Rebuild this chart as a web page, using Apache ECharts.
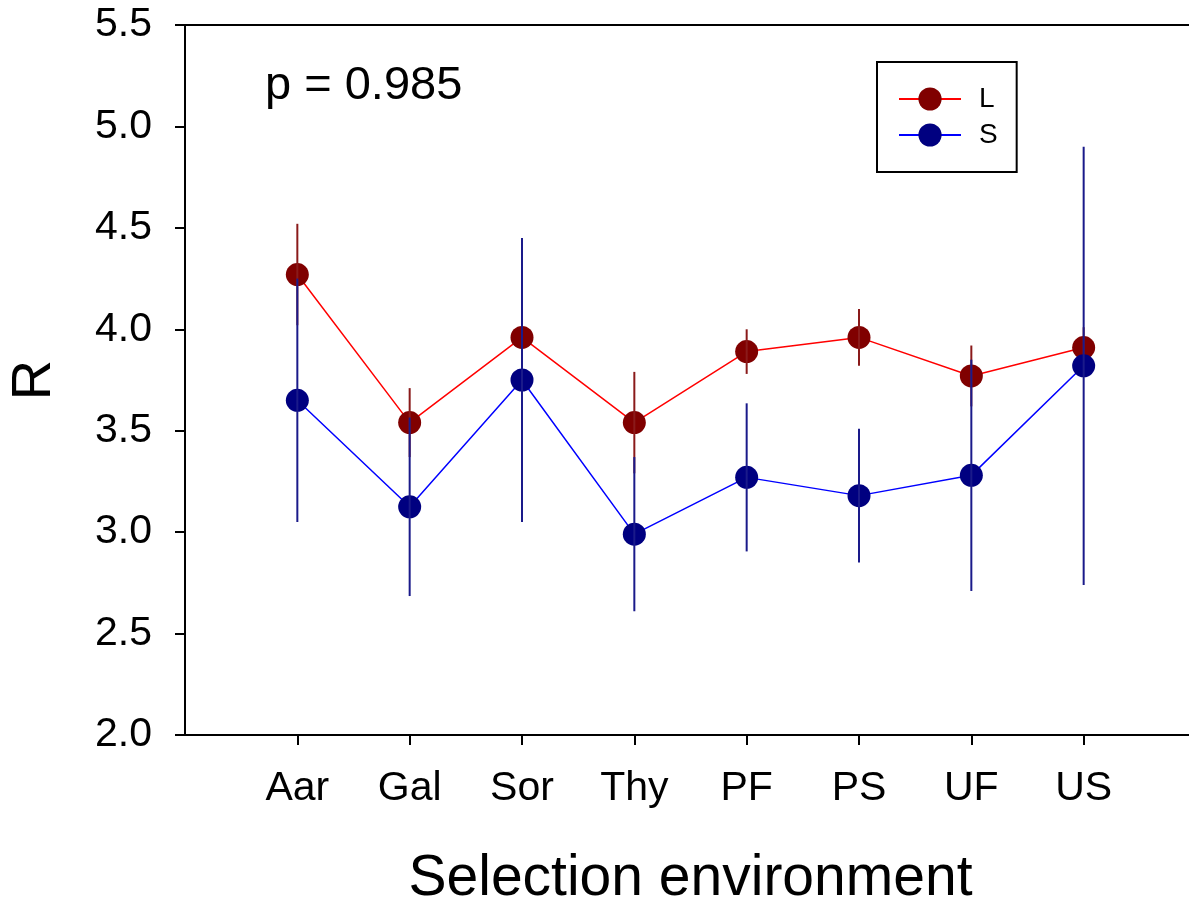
<!DOCTYPE html>
<html>
<head>
<meta charset="utf-8">
<script src="https://cdn.jsdelivr.net/npm/echarts@6/dist/echarts.min.js"></script>
<style>
html,body{margin:0;padding:0;background:#fff;}
#chart{width:1189px;height:901px;}
</style>
</head>
<body>
<div id="chart"></div>
<script>
// ---- data ----
const categories = ['Aar', 'Gal', 'Sor', 'Thy', 'PF', 'PS', 'UF', 'US'];
const meanL = [4.27, 3.54, 3.96, 3.54, 3.89, 3.96, 3.77, 3.91];
const errL  = [0.25, 0.17, 0.10, 0.25, 0.11, 0.14, 0.15, 0.10];
const meanS = [3.65, 3.125, 3.75, 2.99, 3.27, 3.18, 3.28, 3.82];
const errS  = [0.60, 0.44, 0.70, 0.38, 0.365, 0.33, 0.57, 1.08];
const yTicks = [2.0, 2.5, 3.0, 3.5, 4.0, 4.5, 5.0, 5.5];
const annotation = 'p = 0.985';

// padded category list so the points sit one step in from each edge
const axisCats = [''].concat(categories, ['']);

const FONT = '"Liberation Sans", Arial, sans-serif';

function lineData(means) {
  return categories.map((c, i) => [c, means[i]]);
}
function errData(means, errs) {
  return categories.map((c, i) => [c, means[i] - errs[i], means[i] + errs[i]]);
}
function errRender(color) {
  return function (params, api) {
    const x = api.value(0);
    const p1 = api.coord([x, api.value(1)]);
    const p2 = api.coord([x, api.value(2)]);
    return {
      type: 'line',
      shape: { x1: p1[0], y1: p1[1], x2: p2[0], y2: p2[1] },
      style: { stroke: color, lineWidth: 2 }
    };
  };
}

const chart = echarts.init(document.getElementById('chart'), null, { renderer: 'canvas' });
chart.setOption({
  animation: false,
  backgroundColor: '#ffffff',
  grid: {
    left: 185, top: 25, width: 1011, height: 710,
    containLabel: false, outerBoundsMode: 'none',
    show: true, borderColor: '#000', borderWidth: 2, backgroundColor: 'transparent'
  },
  legend: {
    orient: 'vertical',
    left: 877, top: 62,
    data: ['L', 'S'],
    itemWidth: 62, itemHeight: 29, itemGap: 8,
    padding: [23, 19, 23, 21],
    borderColor: '#000', borderWidth: 2,
    textStyle: { fontFamily: FONT, fontSize: 28, color: '#000', padding: [0, 0, 0, 13] },
    selectedMode: false
  },
  xAxis: {
    type: 'category',
    data: axisCats,
    boundaryGap: false,
    name: 'Selection environment',
    nameLocation: 'middle',
    nameGap: 116,
    nameTextStyle: { fontFamily: FONT, fontSize: 57, color: '#000' },
    axisLine: { lineStyle: { color: '#000', width: 2 } },
    axisTick: {
      length: 10, lineStyle: { color: '#000', width: 2 },
      interval: function (idx) { return idx > 0 && idx < axisCats.length - 1; }
    },
    axisLabel: { interval: 0, margin: 33, fontFamily: FONT, fontSize: 41, color: '#000' },
    splitLine: { show: false }
  },
  yAxis: {
    type: 'value',
    min: yTicks[0], max: yTicks[yTicks.length - 1], interval: 0.5,
    name: 'R',
    nameLocation: 'middle',
    nameGap: 122,
    nameTextStyle: { fontFamily: FONT, fontSize: 56, color: '#000' },
    axisLine: { show: true, lineStyle: { color: '#000', width: 2 } },
    axisTick: { show: true, length: 10, lineStyle: { color: '#000', width: 2 } },
    axisLabel: {
      margin: 33, fontFamily: FONT, fontSize: 41, color: '#000',
      formatter: v => v.toFixed(1)
    },
    splitLine: { show: false }
  },
  graphic: [{
    type: 'text', left: 265, top: 63,
    style: { text: annotation, font: '47px ' + FONT, fill: '#000' }
  }],
  series: [
    {
      name: 'L', type: 'line', z: 2,
      data: lineData(meanL),
      symbol: 'circle', symbolSize: 23, showAllSymbol: true,
      itemStyle: { color: '#800000', borderWidth: 0 },
      lineStyle: { color: '#ff0000', width: 1.5 }
    },
    {
      name: 'L-err', type: 'custom', z: 3,
      data: errData(meanL, errL),
      encode: { x: 0, y: [1, 2] },
      renderItem: errRender('#8a1a1a')
    },
    {
      name: 'S', type: 'line', z: 4,
      data: lineData(meanS),
      symbol: 'circle', symbolSize: 23, showAllSymbol: true,
      itemStyle: { color: '#000080', borderWidth: 0 },
      lineStyle: { color: '#0000ff', width: 1.5 }
    },
    {
      name: 'S-err', type: 'custom', z: 5,
      data: errData(meanS, errS),
      encode: { x: 0, y: [1, 2] },
      renderItem: errRender('#1a1a8a')
    }
  ]
});
</script>
</body>
</html>
